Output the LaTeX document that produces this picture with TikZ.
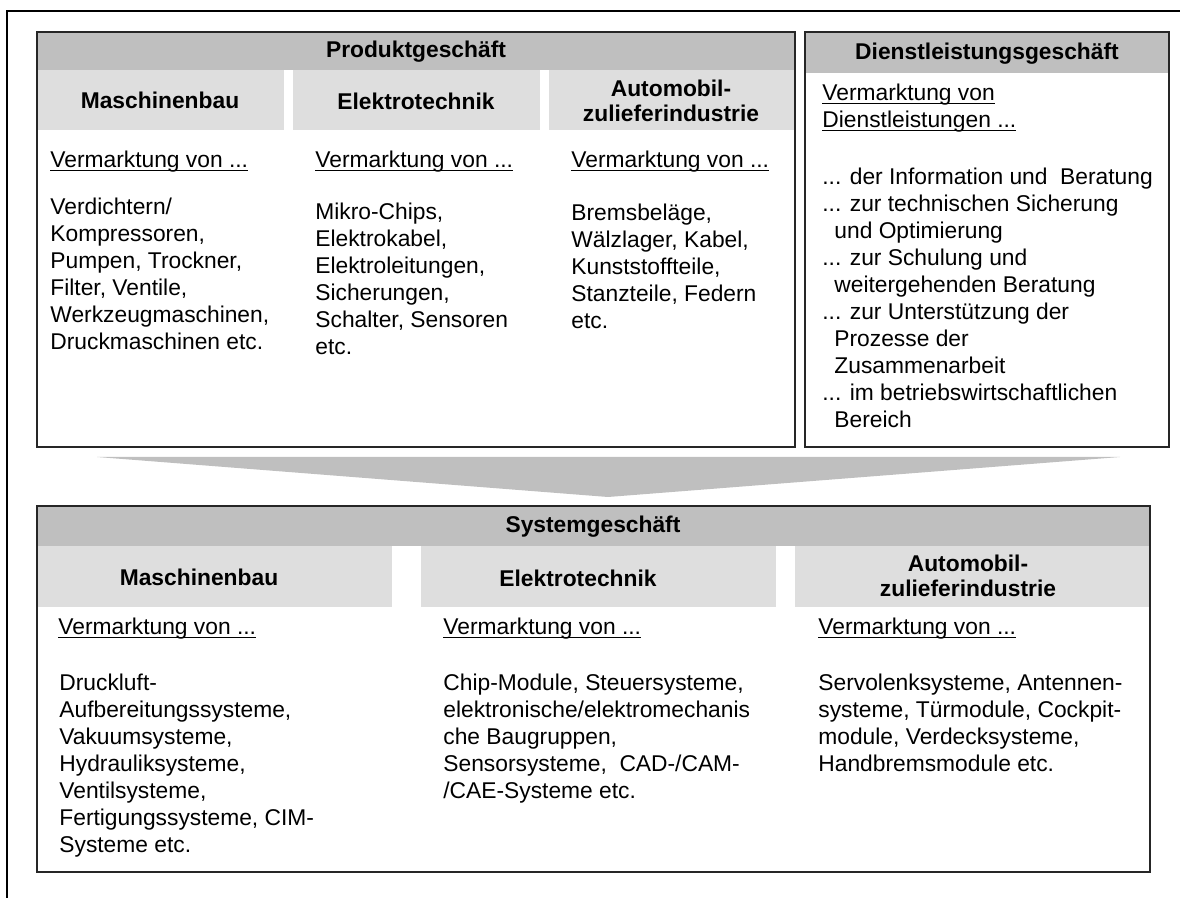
\documentclass[tikz,border=0pt]{standalone}
\usepackage{fontspec}
\setmainfont{Liberation Sans}
\newcommand{\dind}{\hspace*{6pt}}
\newsavebox\ulbox
\newcommand{\uln}[1]{\sbox\ulbox{#1}\rlap{\rule[-1.7pt]{\wd\ulbox}{0.75pt}}\usebox\ulbox}
\begin{document}
\begin{tikzpicture}[x=0.5pt,y=-0.5pt,
		txt/.style={inner sep=0pt,anchor=north west,align=left,font=\fontsize{11.4}{13.5}\selectfont},
		head/.style={inner sep=0pt,align=center,font=\fontsize{11.4}{12.5}\selectfont\bfseries},
		frame/.style={draw=black!85,line width=0.7pt},
		darkbar/.style={fill=black!25},
		lightbar/.style={fill=black!13}]
		\useasboundingbox (0,0) rectangle (1180,898);
		\draw [line width=1.2pt] (7,898) -- (7,11) -- (1180,11);
		% Produktgeschaeft
		\fill [darkbar] (37,32) rectangle (795,70);
		\fill [lightbar] (37,70) rectangle (284,130);
		\fill [lightbar] (293,70) rectangle (540,130);
		\fill [lightbar] (549,70) rectangle (795,130);
		\draw [frame] (37,32) rectangle (795,447);
		% Dienstleistungsgeschaeft
		\fill [darkbar] (805,32) rectangle (1169,73);
		\draw [frame] (805,32) rectangle (1169,447);
		% Pfeil
		\fill [black!25] (97,457) -- (1120,457) -- (608,497) -- cycle;
		% Systemgeschaeft
		\fill [darkbar] (37,506) rectangle (1150,546);
		\fill [lightbar] (37,546) rectangle (392,607);
		\fill [lightbar] (421,546) rectangle (776,607);
		\fill [lightbar] (795,546) rectangle (1150,607);
		\draw [frame] (37,506) rectangle (1150,872);
		
		\node[head] (prodhead) at (416,52) {Produktgeschäft};
		\node[head] (prodmasch) at (160,100) {Maschinenbau};
		\node[head] (prodelek) at (416,101) {Elektrotechnik};
		\node[head] (prodauto) at (671,101) {Automobil-\\zulieferindustrie};
		\node[txt] (prodvm1) at (50,151) {\uln{Vermarktung von ...}};
		\node[txt] (prodvm2) at (315,151) {\uln{Vermarktung von ...}};
		\node[txt] (prodvm3) at (571,151) {\uln{Vermarktung von ...}};
		\node[txt] (prodlist1) at (50,198) {Verdichtern/\\Kompressoren,\\Pumpen, Trockner,\\Filter, Ventile,\\Werkzeugmaschinen,\\Druckmaschinen etc.};
		\node[txt] (prodlist2) at (315,203) {Mikro-Chips,\\Elektrokabel,\\Elektroleitungen,\\Sicherungen,\\Schalter, Sensoren\\etc.};
		\node[txt] (prodlist3) at (571,204) {Bremsbeläge,\\Wälzlager, Kabel,\\Kunststoffteile,\\Stanzteile, Federn\\etc.};
		
		\node[head] (diensthead) at (987,54) {Dienstleistungsgeschäft};
		\node[txt] (dienstvm) at (822,84) {\uln{Vermarktung von}\\\uln{Dienstleistungen ...}};
		\node[txt] (dienstlist) at (822,168) {... der Information und\ \ Beratung\\... zur technischen Sicherung\\\dind und Optimierung\\... zur Schulung und\\\dind weitergehenden Beratung\\... zur Unterstützung der\\\dind Prozesse der\\\dind Zusammenarbeit\\... im betriebswirtschaftlichen\\\dind Bereich};
		
		\node[head] (syshead) at (593,527) {Systemgeschäft};
		\node[head] (sysmasch) at (199,577) {Maschinenbau};
		\node[head] (syselek) at (578,578) {Elektrotechnik};
		\node[head] (sysauto) at (968,576) {Automobil-\\zulieferindustrie};
		\node[txt] (sysvm1) at (58,618) {\uln{Vermarktung von ...}};
		\node[txt] (sysvm2) at (443,618) {\uln{Vermarktung von ...}};
		\node[txt] (sysvm3) at (818,618) {\uln{Vermarktung von ...}};
		\node[txt] (syslist1) at (59,674) {Druckluft-\\Aufbereitungssysteme,\\Vakuumsysteme,\\Hydrauliksysteme,\\Ventilsysteme,\\Fertigungssysteme, CIM-\\Systeme etc.};
		\node[txt] (syslist2) at (443,674) {Chip-Module, Steuersysteme,\\elektronische/elektromechanis\\che Baugruppen,\\Sensorsysteme,\ \ CAD-/CAM-\\/CAE-Systeme etc.};
		\node[txt] (syslist3) at (818,674) {Servolenksysteme, Antennen-\\systeme, Türmodule, Cockpit-\\module, Verdecksysteme,\\Handbremsmodule etc.};
	\end{tikzpicture}
\end{document}
